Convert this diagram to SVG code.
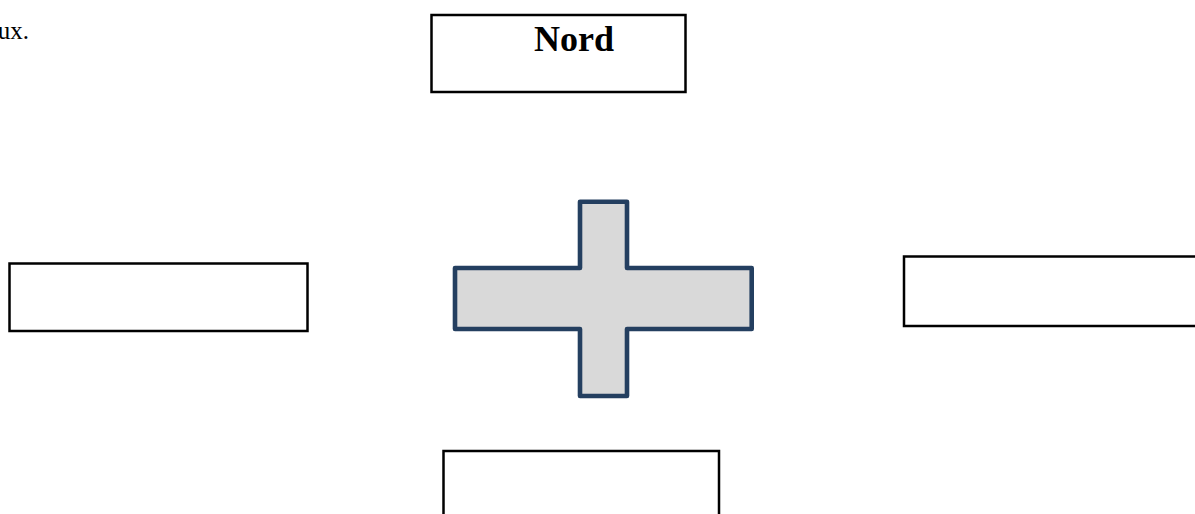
<svg xmlns="http://www.w3.org/2000/svg" width="1195" height="514" viewBox="0 0 1195 514">
<style>
.box{fill:#fff;stroke:#000;stroke-width:2.5}
.lbl{font-family:"Liberation Serif","Times New Roman",serif;fill:#000}
</style>
<rect width="1195" height="514" fill="#fff"/>
<text class="lbl" x="29" y="39" font-size="25" text-anchor="end">ux.</text>
<g id="nord">
<rect class="box" x="431.5" y="15" width="254" height="77"/>
<text class="lbl" x="574" y="50.5" font-size="36" font-weight="bold" text-anchor="middle">Nord</text>
</g>
<g id="west">
<rect class="box" x="9.5" y="263.5" width="298" height="67.5"/>
</g>
<g id="east">
<rect class="box" x="904" y="256.5" width="310" height="69.5"/>
</g>
<g id="south">
<rect class="box" x="443.5" y="451" width="275.5" height="100"/>
</g>
<g id="cross">
<path d="M580,201.7 H627 V268 H751.7 V329 H627 V396 H580 V329 H455 V268 H580 Z" fill="#d9d9d9" stroke="#243f60" stroke-width="4.6" stroke-linejoin="round"/>
</g>
<g id="connectors"></g>
</svg>
